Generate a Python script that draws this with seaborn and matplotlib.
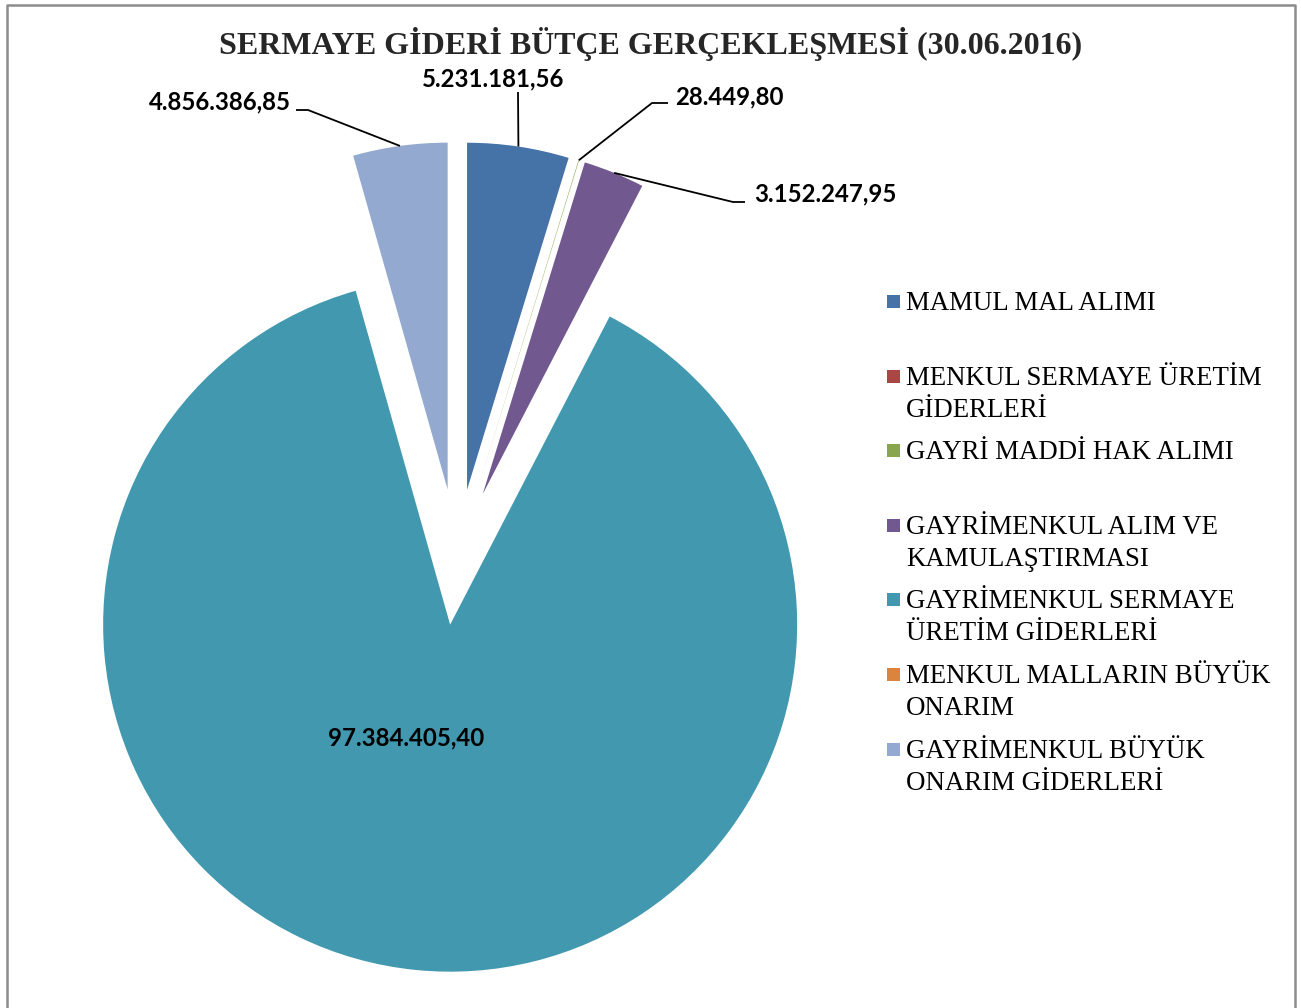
import numpy as np
import matplotlib
matplotlib.use("Agg")
import matplotlib.pyplot as plt
from matplotlib.patches import Rectangle
from matplotlib.lines import Line2D
import seaborn as sns

# data
categories = [
    "MAMUL MAL ALIMI",
    "MENKUL SERMAYE ÜRETİM\nGİDERLERİ",
    "GAYRİ MADDİ HAK ALIMI",
    "GAYRİMENKUL ALIM VE\nKAMULAŞTIRMASI",
    "GAYRİMENKUL SERMAYE\nÜRETİM GİDERLERİ",
    "MENKUL MALLARIN BÜYÜK\nONARIM",
    "GAYRİMENKUL BÜYÜK\nONARIM GİDERLERİ",
]
values = [5231181.56, 0.0, 28449.80, 3152247.95, 97384405.40, 0.0, 4856386.85]
colors = ["#4572A7", "#AA4643", "#89A54E", "#71588F", "#4198AF", "#DB843D", "#93A9CF"]
title = "SERMAYE GİDERİ BÜTÇE GERÇEKLEŞMESİ (30.06.2016)"

W, H = 1301, 1008
CX, CY, R = 457, 557, 347  # pie centre / radius in pixels


def px(x, y):
    # pixel (top-left origin) -> pie data coords (radius 1)
    return (x - CX) / R, (CY - y) / R


def tr_fmt(v):
    s = f"{v:,.2f}"
    return s.replace(",", "X").replace(".", ",").replace("X", ".")


def main():
    sns.set_theme(style="white")
    plt.rcParams["font.family"] = ["Liberation Serif", "DejaVu Serif"]

    fig = plt.figure(figsize=(W / 100, H / 100), dpi=100)
    ax = fig.add_axes([0, 0, 1, 1])

    wedges, _ = ax.pie(values, colors=colors, startangle=90, counterclock=False,
                       explode=[0.196] * len(values), radius=1,
                       wedgeprops=dict(linewidth=0))
    ax.set_xlim(px(0, 0)[0], px(W, 0)[0])
    ax.set_ylim(px(0, H)[1], px(0, 0)[1])
    ax.set_aspect("equal")
    ax.axis("off")

    # data labels: (text position px, alignment, elbow points px)
    label_spec = {
        0: ((493, 79), "center", [(518, 92)]),
        2: ((675, 97), "left", [(652, 103), (668, 103)]),
        3: ((754, 194), "left", [(733, 202), (745, 202)]),
        4: ((406, 738), "center", None),
        6: ((291, 102), "right", [(308, 110), (296, 110)]),
    }
    lab_font = dict(family=["Lato", "DejaVu Sans"], fontweight="bold", fontsize=17.3)
    for i, (pos, ha, elbow) in label_spec.items():
        w = wedges[i]
        tx, ty = px(*pos)
        ax.text(tx, ty, tr_fmt(values[i]), ha=ha, va="center", color="black", **lab_font)
        if elbow is not None:
            mid = np.deg2rad((w.theta1 + w.theta2) / 2)
            ex = w.center[0] + w.r * np.cos(mid)
            ey = w.center[1] + w.r * np.sin(mid)
            pts = [(ex, ey)] + [px(*p) for p in elbow]
            ax.plot([p[0] for p in pts], [p[1] for p in pts], color="black", lw=1.3,
                    solid_capstyle="butt")

    # title
    fig.text(651 / W, 1 - 44 / H, title, ha="center", va="center",
             fontsize=23, fontweight="bold", family=["Liberation Serif", "DejaVu Serif"])

    # legend (manual so the square sits on the first line)
    leg_y = [301, 376, 450, 525, 599, 674, 749]
    for c, lab, y in zip(colors, categories, leg_y):
        fig.patches.append(Rectangle((887 / W, 1 - (y + 6.5) / H), 13 / W, 13 / H,
                                     transform=fig.transFigure, facecolor=c,
                                     edgecolor="none"))
        fig.text(906 / W, 1 - (y - 10) / H, lab, ha="left", va="top",
                 fontsize=19.4, linespacing=1.35, color="black",
                 family=["Liberation Serif", "DejaVu Serif"])

    # chart area border (bottom edge cut off in the reference)
    bx = [7 / W, 7 / W, 1295 / W, 1295 / W]
    by = [0, 1 - 5 / H, 1 - 5 / H, 0]
    fig.lines.append(Line2D(bx, by, transform=fig.transFigure, color="#8c8c8c", lw=1.8))

    fig.savefig("out.png", dpi=100)


if __name__ == "__main__":
    main()
